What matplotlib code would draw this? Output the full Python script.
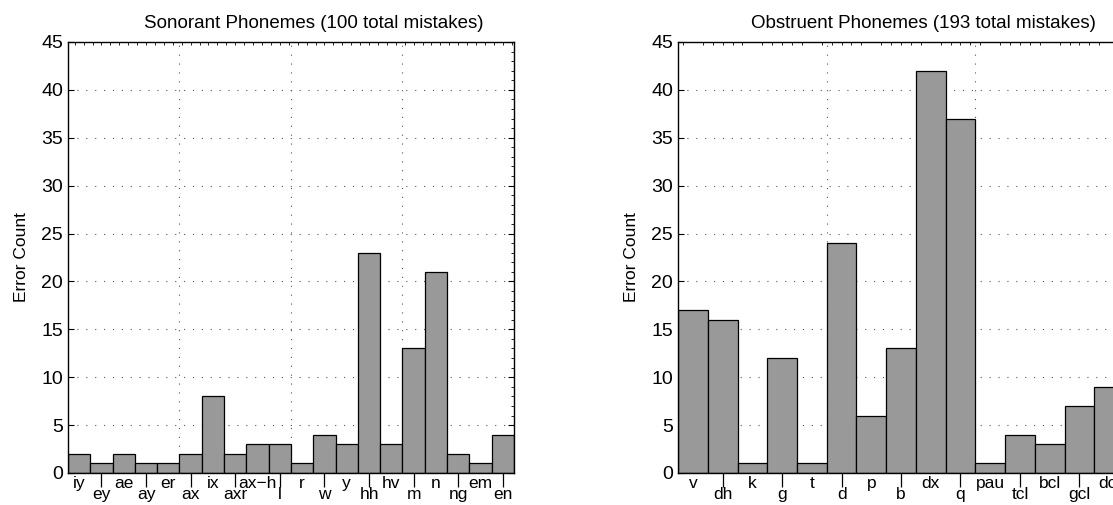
import matplotlib.pyplot as plt
from matplotlib.ticker import MultipleLocator

plt.rcParams['font.family'] = ['Liberation Sans', 'DejaVu Sans']

son_labels = ['iy', 'ey', 'ae', 'ay', 'er', 'ax', 'ix', 'axr', 'ax\u2212h', 'l',
              'r', 'w', 'y', 'hh', 'hv', 'm', 'n', 'ng', 'em', 'en']
son_counts = [2, 1, 2, 1, 1, 2, 8, 2, 3, 3, 1, 4, 3, 23, 3, 13, 21, 2, 1, 4]

obs_labels = ['v', 'dh', 'k', 'g', 't', 'd', 'p', 'b', 'dx', 'q',
              'pau', 'tcl', 'bcl', 'gcl', 'dcl']
obs_counts = [17, 16, 1, 12, 1, 24, 6, 13, 42, 37, 1, 4, 3, 7, 9]

grid_style = dict(color='#555555', linestyle=(0, (1, 7)), linewidth=0.8, zorder=0)


def phoneme_hist(ax, labels, counts, title, minor_x):
    n = len(counts)
    pos = list(range(1, n + 1))
    ax.bar(pos, counts, width=1.0, color='#999999', edgecolor='black',
           linewidth=0.9, zorder=2)
    ax.set_xlim(0.5, n + 0.5)
    ax.set_ylim(0, 45)
    ax.set_yticks(range(0, 46, 5))
    ax.yaxis.set_minor_locator(MultipleLocator(1))
    ax.xaxis.set_minor_locator(MultipleLocator(minor_x))

    # odd labels on the first row, even ones on a second row below a mark
    ax.set_xticks(pos[0::2])
    ax.set_xticklabels(labels[0::2], fontsize=12.5)
    ax.tick_params(axis='x', which='major', length=0, pad=2)
    ax.tick_params(axis='x', which='minor', bottom=False, top=True,
                   direction='in', length=2.5, width=0.6)
    low = ax.secondary_xaxis('bottom')
    low.set_xticks(pos[1::2])
    low.set_xticklabels(labels[1::2], fontsize=12.5)
    low.tick_params(axis='x', direction='out', length=10, width=0.9, pad=0)
    low.spines['bottom'].set_visible(False)

    ax.tick_params(axis='y', which='major', left=True, right=True,
                   direction='in', length=4, labelsize=14)
    ax.tick_params(axis='y', which='minor', left=False, right=True,
                   direction='in', length=2, width=0.6)
    for y in range(5, 45, 5):
        ax.axhline(y, **grid_style)
    for x in range(5, n, 5):
        ax.axvline(x + 0.5, **grid_style)
    for s in ax.spines.values():
        s.set_linewidth(1.0)
    ax.set_title(title, fontsize=13.5, pad=10, x=0.55)
    ax.set_ylabel('Error Count', fontsize=12.5, labelpad=9)


fig = plt.figure(figsize=(11.13, 5.05), dpi=100)
ax1 = fig.add_axes([0.0611, 0.0634, 0.4007, 0.8535])
ax2 = fig.add_axes([0.6092, 0.0634, 0.4007, 0.8535])

phoneme_hist(ax1, son_labels, son_counts,
             'Sonorant Phonemes (100 total mistakes)', 0.4)
phoneme_hist(ax2, obs_labels, obs_counts,
             'Obstruent Phonemes (193 total mistakes)', 1 / 3)

fig.savefig('out.png', dpi=100)
